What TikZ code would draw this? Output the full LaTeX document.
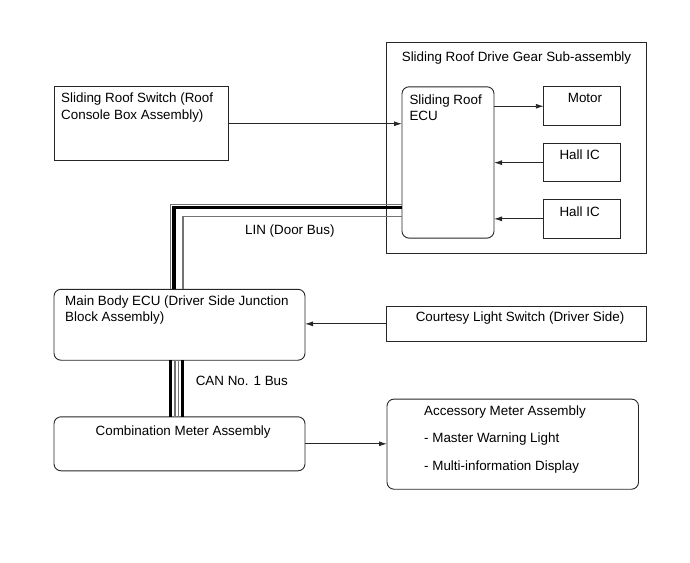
\documentclass[tikz,border=0pt]{standalone}
\usepackage{fontspec}
\setmainfont{Liberation Sans}
\usetikzlibrary{arrows.meta}

\newcommand{\diagfont}{\fontsize{13.4}{16.4}\selectfont}

\begin{document}
\begin{tikzpicture}[x=1pt,y=-1pt,>={Latex[length=8pt,width=5pt]},line join=miter,
    box/.style={draw=black!85,line width=0.9pt,inner sep=0pt,outer sep=0pt},
    round box/.style={box,rounded corners=7pt},
    wire/.style={draw=black!85,line width=0.9pt,->},
    bus thick/.style={draw=black,line width=3.5pt},
    bus thin/.style={draw=black!55,line width=1.2pt},
    lbl/.style={inner sep=0pt,font=\diagfont,align=left}]
    \useasboundingbox (0,0) rectangle (690,562);

    % boxes
    \node[box,minimum width=174pt,minimum height=73.9pt] (roofsw) at (141,123.75) {};
    \node[box,minimum width=260.2pt,minimum height=211.5pt] (gear) at (516.4,147.85) {};
    \node[round box,minimum width=92pt,minimum height=151.3pt] (ecu) at (448,162.45) {};
    \node[box,minimum width=77pt,minimum height=38.9pt] (motor) at (582.3,106.25) {};
    \node[box,minimum width=77pt,minimum height=38.5pt] (hall1) at (582.3,162.65) {};
    \node[box,minimum width=77pt,minimum height=38.5pt] (hall2) at (582.3,218.85) {};
    \node[round box,minimum width=251pt,minimum height=70.9pt] (mbody) at (179.5,324.75) {};
    \node[box,minimum width=260.2pt,minimum height=35.3pt] (courtesy) at (516.4,323.85) {};
    \node[round box,minimum width=251pt,minimum height=54pt] (comb) at (179.5,443.8) {};
    \node[round box,minimum width=251.5pt,minimum height=90.1pt] (accmeter) at (512.75,444.15) {};

    % texts
    \node[lbl,anchor=north west] (roofswtxt) at (61,92.8) {Sliding Roof Switch (Roof\\Console Box Assembly)};
    \node[lbl,anchor=base] (geartxt) at (516.5,61.7) {Sliding Roof Drive Gear Sub-assembly};
    \node[lbl,anchor=north west] (ecutxt) at (409.3,94.2) {Sliding Roof\\ECU};
    \node[lbl,anchor=base] (motortxt) at (585,102.4) {Motor};
    \node[lbl,anchor=base] (hall1txt) at (579.6,159) {Hall IC};
    \node[lbl,anchor=base] (hall2txt) at (579.6,216) {Hall IC};
    \node[lbl,anchor=base] (lintxt) at (289.8,234) {LIN (Door Bus)};
    \node[lbl,anchor=north west] (mbodytxt) at (65,295.2) {Main Body ECU (Driver Side Junction\\Block Assembly)};
    \node[lbl,anchor=base] (courtesytxt) at (520,321) {Courtesy Light Switch (Driver Side)};
    \node[lbl,anchor=base west] (cantxt) at (195.6,385) {CAN No. 1 Bus};
    \node[lbl,anchor=base] (combtxt) at (183.2,435) {Combination Meter Assembly};
    \node[lbl,anchor=north west] (acctxt) at (424,405.2) {Accessory Meter Assembly\\[11pt]- Master Warning Light\\[11.6pt]- Multi-information Display};

    % signal lines
    \path[every edge/.style={wire}]
        (roofsw.east) edge (roofsw.east -| ecu.west)
        (ecu.east |- motor.west) edge (motor.west)
        (hall1.west) edge (hall1.west -| ecu.east)
        (hall2.west) edge (hall2.west -| ecu.east)
        (courtesy.west) edge (courtesy.west -| mbody.east)
        (comb.east) edge (comb.east -| accmeter.west)
    ;

    % LIN bus
    \coordinate (linout) at (170.5,204);
    \coordinate (linmid) at (174,207.5);
    \coordinate (linin) at (183,216.5);
    \draw[bus thin,line width=1pt] (ecu.west |- linout) -| (linout |- mbody.north);
    \draw[bus thick] (ecu.west |- linmid) -| (linmid |- mbody.north);
    \draw[bus thin] (ecu.west |- linin) -| (linin |- mbody.north);

    % CAN bus
    \foreach \x/\s in {170.5/bus thick,175/bus thin,178.5/bus thin,182.5/bus thick}
        \draw[\s] (\x,0 |- mbody.south) -- (\x,0 |- comb.north);
\end{tikzpicture}
\end{document}
